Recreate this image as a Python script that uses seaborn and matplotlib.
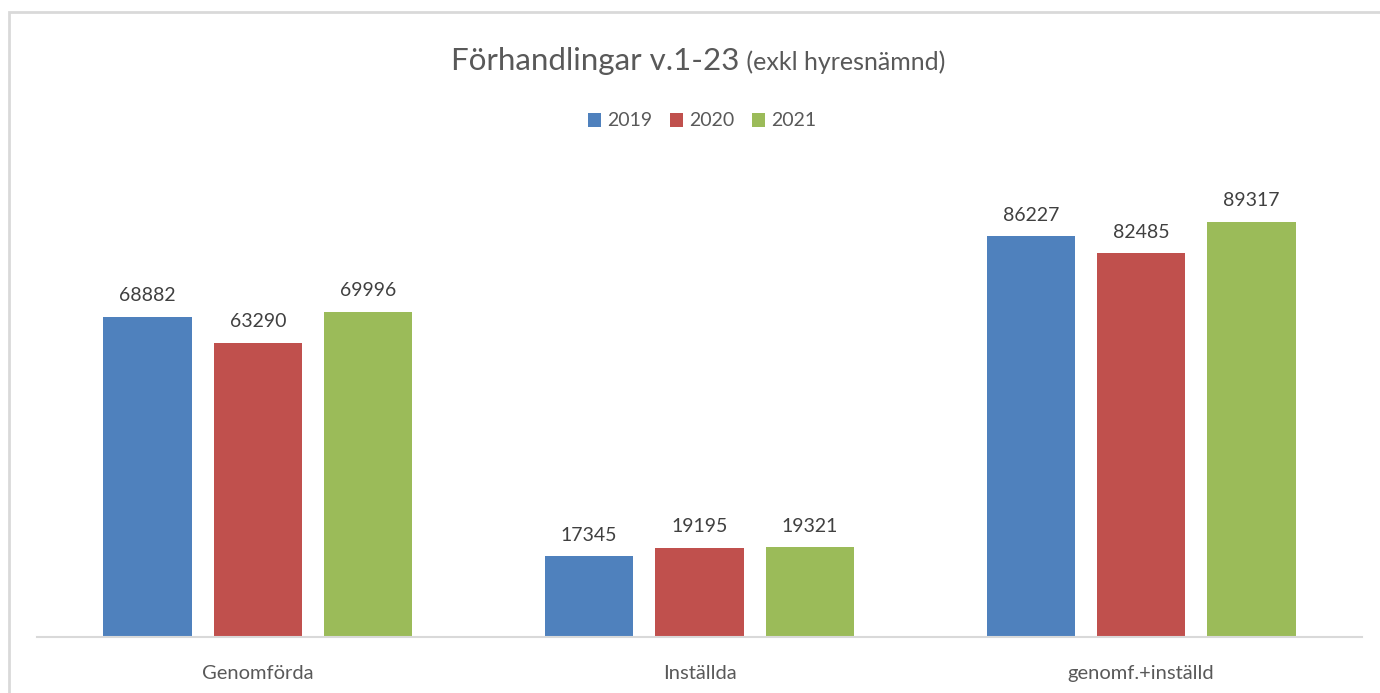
import matplotlib
matplotlib.use("Agg")
import matplotlib.pyplot as plt
import seaborn as sns
import pandas as pd
from matplotlib.patches import Rectangle, Patch

categories = ["Genomförda", "Inställda", "genomf.+inställd"]
years = ["2019", "2020", "2021"]
values_2019 = [68882, 17345, 86227]
values_2020 = [63290, 19195, 82485]
values_2021 = [69996, 19321, 89317]
colors = ["#4F81BD", "#C0504D", "#9BBB59"]

title_main = "Förhandlingar v.1-23"
title_sub = " (exkl hyresnämnd)"

rows = []
for yr, vals in zip(years, [values_2019, values_2020, values_2021]):
    for c, v in zip(categories, vals):
        rows.append({"cat": c, "year": yr, "val": v})
df = pd.DataFrame(rows)

sns.set_theme(style="white")
plt.rcParams["font.family"] = ["Lato", "DejaVu Sans"]

W, H = 1380, 693
fig = plt.figure(figsize=(W / 100, H / 100), dpi=100)
ax = fig.add_axes([37 / W, (H - 637) / H, (1362 - 37) / W, (637 - 172) / H])

sns.barplot(data=df, x="cat", y="val", hue="year", palette=colors,
            width=0.75, gap=0.2, ax=ax, legend=False, linewidth=0,
            saturation=1, order=categories, hue_order=years)

ax.set_ylim(0, 100000)
ax.set_xlim(-0.5, 2.5)
for c in ax.containers:
    ax.bar_label(c, padding=9, fontsize=14, color="#404040")

ax.set_xlabel("")
ax.set_ylabel("")
ax.set_yticks([])
for s in ["top", "right", "left"]:
    ax.spines[s].set_visible(False)
ax.spines["bottom"].set_color("#d9d9d9")
ax.spines["bottom"].set_linewidth(1.5)
ax.tick_params(axis="x", length=0, pad=20, labelsize=14.5, labelcolor="#595959")

# outer frame (partially visible)
fig.patches.append(Rectangle((9 / W, -0.1), 1.2, (H - 12) / H + 0.1,
                             transform=fig.transFigure, fill=False,
                             edgecolor="#d9d9d9", linewidth=2))

# title with two sizes
ty = 1 - 70 / H
t1 = fig.text(0, ty, title_main, fontsize=22.5, color="#595959", va="baseline", ha="left")
t2 = fig.text(0, ty, title_sub, fontsize=18, color="#595959", va="baseline", ha="left")
fig.canvas.draw()
r = fig.canvas.get_renderer()
w1 = t1.get_window_extent(r).width
w2 = t2.get_window_extent(r).width
x0 = (698 - (w1 + w2) / 2)
t1.set_x(x0 / W)
t2.set_x((x0 + w1) / W)

handles = [Patch(facecolor=c, edgecolor="none") for c in colors]
fig.legend(handles, years, loc="center", bbox_to_anchor=(702 / W, 1 - 121 / H),
           ncol=3, frameon=False, fontsize=14, handlelength=0.7, handleheight=0.7,
           handletextpad=0.3, columnspacing=0.9, labelcolor="#595959")

fig.savefig("out.png", dpi=100, facecolor="white")
